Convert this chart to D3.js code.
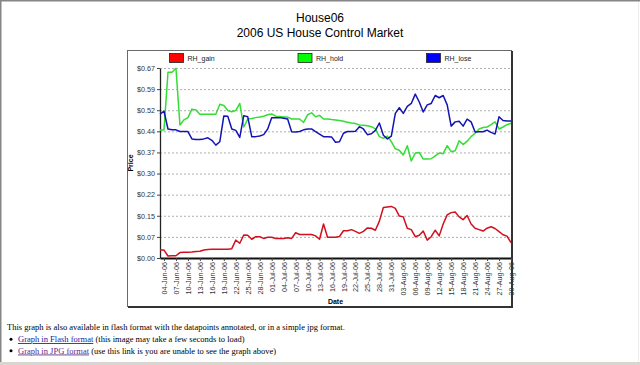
<!DOCTYPE html>
<html>
<head>
<meta charset="utf-8">
<script src="https://d3js.org/d3.v7.min.js"></script>
<style>
  body { margin: 0; background: #fff; }
  svg { display: block; }
</style>
</head>
<body>
<svg id="chart" width="640" height="365"></svg>
<script>

// ---- data ----
var firstDay = "03-Jun-06";
var lastDay = "30-Aug-06";

var seriesNames = ["RH_gain", "RH_hold", "RH_lose"];

var rhGain = [0.028, 0.028, 0.007, 0.008, 0.008, 0.019, 0.02, 0.02, 0.021, 0.023,
  0.024, 0.028, 0.03, 0.031, 0.031, 0.031, 0.031, 0.031, 0.033, 0.063,
  0.052, 0.081, 0.08, 0.066, 0.075, 0.075, 0.069, 0.073, 0.073, 0.069,
  0.069, 0.069, 0.071, 0.069, 0.089, 0.083, 0.083, 0.083, 0.083, 0.078,
  0.066, 0.12, 0.073, 0.073, 0.073, 0.076, 0.096, 0.096, 0.1, 0.094,
  0.087, 0.094, 0.106, 0.105, 0.098, 0.13, 0.178, 0.18, 0.182, 0.175,
  0.148, 0.145, 0.105, 0.1, 0.075, 0.08, 0.095, 0.063, 0.075, 0.098,
  0.078, 0.12, 0.152, 0.16, 0.162, 0.145, 0.135, 0.15, 0.12, 0.105,
  0.1, 0.095, 0.105, 0.11, 0.104, 0.093, 0.082, 0.077, 0.054];

var rhHold = [0.451, 0.451, 0.655, 0.655, 0.669, 0.469, 0.487, 0.495, 0.525, 0.522,
  0.507, 0.507, 0.507, 0.507, 0.507, 0.542, 0.538, 0.52, 0.516, 0.52,
  0.545, 0.462, 0.49, 0.492, 0.495, 0.497, 0.5, 0.505, 0.508, 0.5,
  0.499, 0.497, 0.497, 0.49, 0.49, 0.49, 0.478, 0.505, 0.512, 0.498,
  0.503, 0.49, 0.49, 0.488, 0.487, 0.485, 0.482, 0.479, 0.476, 0.474,
  0.469, 0.468, 0.466, 0.463, 0.455, 0.428, 0.422, 0.43, 0.41, 0.385,
  0.38, 0.363, 0.396, 0.342, 0.37, 0.372, 0.349, 0.349, 0.35, 0.36,
  0.37, 0.368, 0.396, 0.375, 0.378, 0.413, 0.4, 0.412, 0.428, 0.44,
  0.455, 0.46, 0.462, 0.47, 0.48, 0.455, 0.462, 0.47, 0.475];

var rhLose = [0.507, 0.518, 0.455, 0.452, 0.452, 0.446, 0.446, 0.446, 0.42, 0.418,
  0.418, 0.42, 0.424, 0.415, 0.398, 0.41, 0.501, 0.5, 0.455, 0.45,
  0.425, 0.502, 0.498, 0.428, 0.428, 0.43, 0.435, 0.455, 0.495, 0.495,
  0.495, 0.493, 0.49, 0.445, 0.444, 0.446, 0.452, 0.455, 0.455, 0.446,
  0.437, 0.428, 0.428, 0.427, 0.408, 0.41, 0.44, 0.446, 0.446, 0.447,
  0.463, 0.455, 0.435, 0.438, 0.45, 0.476, 0.433, 0.42, 0.43, 0.51,
  0.53, 0.51, 0.535, 0.545, 0.578, 0.55, 0.515, 0.54, 0.545, 0.573,
  0.565, 0.573, 0.54, 0.465, 0.48, 0.482, 0.465, 0.49, 0.48, 0.444,
  0.445, 0.445, 0.451, 0.443, 0.437, 0.498, 0.485, 0.483, 0.483];

var xTickLabels = ["04-Jun-06", "07-Jun-06", "10-Jun-06", "13-Jun-06", "16-Jun-06",
  "19-Jun-06", "22-Jun-06", "25-Jun-06", "28-Jun-06", "01-Jul-06", "04-Jul-06",
  "07-Jul-06", "10-Jul-06", "13-Jul-06", "16-Jul-06", "19-Jul-06", "22-Jul-06",
  "25-Jul-06", "28-Jul-06", "31-Jul-06", "03-Aug-06", "06-Aug-06", "09-Aug-06",
  "12-Aug-06", "15-Aug-06", "18-Aug-06", "21-Aug-06", "24-Aug-06", "27-Aug-06",
  "30-Aug-06"];

var yMax = 0.67;
var yTickLabels = ["$0.00", "$0.07", "$0.15", "$0.22", "$0.30", "$0.37", "$0.44", "$0.52", "$0.59", "$0.67"];

// ---- setup ----
var sans = "Arial, 'Liberation Sans', sans-serif";
var serif = "'Times New Roman', 'Liberation Serif', serif";
var lineColors = ["#d0101c", "#33dd33", "#1414b4"];
var swatchColors = ["#ff0000", "#00ff00", "#0000ff"];

var parseDay = d3.timeParse("%d-%b-%y");
var days = d3.timeDay.range(parseDay(firstDay), d3.timeDay.offset(parseDay(lastDay), 1));
var allSeries = [rhGain, rhHold, rhLose];

var svg = d3.select("#chart");

// page frame (browser window edges)
svg.append("rect").attr("x", 0).attr("y", 0).attr("width", 640).attr("height", 365).attr("fill", "#fff");
svg.append("line").attr("x1", 0).attr("x2", 640).attr("y1", 0.75).attr("y2", 0.75)
  .attr("stroke", "#858585").attr("stroke-width", 1.5);
svg.append("line").attr("x1", 0.75).attr("x2", 0.75).attr("y1", 0).attr("y2", 365)
  .attr("stroke", "#858585").attr("stroke-width", 1.5);
svg.append("rect").attr("x", 0).attr("y", 362).attr("width", 640).attr("height", 3).attr("fill", "#d8d6d0");
svg.append("line").attr("x1", 638.5).attr("x2", 638.5).attr("y1", 2).attr("y2", 362)
  .attr("stroke", "#ececec");

// titles
svg.append("text").attr("x", 320).attr("y", 22).attr("text-anchor", "middle")
  .style("font-family", sans).style("font-size", "12px").text("House06");
svg.append("text").attr("x", 320).attr("y", 36.5).attr("text-anchor", "middle")
  .style("font-family", sans).style("font-size", "12px").text("2006 US House Control Market");

// chart box with shadow
svg.append("rect").attr("x", 127.5).attr("y", 50.5).attr("width", 384).attr("height", 256)
  .attr("fill", "#fff").attr("stroke", "#6a6a6a");
svg.append("line").attr("x1", 512).attr("x2", 512).attr("y1", 51).attr("y2", 308)
  .attr("stroke", "#333").attr("stroke-width", 2);
svg.append("line").attr("x1", 128).attr("x2", 513).attr("y1", 307).attr("y2", 307)
  .attr("stroke", "#333").attr("stroke-width", 2);

// legend
var legend = svg.append("g").selectAll("g").data(seriesNames).enter().append("g")
  .attr("transform", function(d, i) { return "translate(" + (169.5 + i * 128.5) + ",53.5)"; });
legend.append("rect").attr("width", 14).attr("height", 9)
  .attr("fill", function(d, i) { return swatchColors[i]; })
  .attr("stroke", "#222").attr("stroke-width", 0.8);
legend.append("text").attr("x", 18).attr("y", 7.5)
  .style("font-family", sans).style("font-size", "7px").attr("fill", "#222")
  .text(function(d) { return d; });

// scales
var plotLeft = 160, plotRight = 511, plotTop = 68, plotBottom = 258;
var x = d3.scaleTime().domain([parseDay(firstDay), parseDay(lastDay)]).range([plotLeft, plotRight]);
var y = d3.scaleLinear().domain([0, yMax]).range([plotBottom, plotTop]);
var yTicks = yTickLabels.map(function(d, i) { return i * yMax / 9; });

// dashed grid
svg.append("g").selectAll("line").data(yTicks.slice(1)).enter().append("line")
  .attr("x1", plotLeft).attr("x2", plotRight)
  .attr("y1", function(d) { return y(d) + 0.5; }).attr("y2", function(d) { return y(d) + 0.5; })
  .attr("stroke", "#9a9a9a").attr("stroke-width", 0.8).attr("stroke-dasharray", "2,2");

// y axis
var yAxis = svg.append("g").attr("transform", "translate(" + plotLeft + ",0)")
  .call(d3.axisLeft(y).tickValues(yTicks).tickFormat(function(d, i) { return yTickLabels[i]; })
    .tickSize(3).tickSizeOuter(0));
yAxis.select(".domain").attr("stroke", "#222").attr("stroke-width", 1.3);
yAxis.selectAll(".tick line").attr("stroke", "#444");
yAxis.selectAll(".tick text").attr("x", -5).style("font-family", sans).style("font-size", "7.2px").attr("fill", "#333");

// x axis
var xAxis = svg.append("g").attr("transform", "translate(0," + plotBottom + ")")
  .call(d3.axisBottom(x).tickValues(xTickLabels.map(parseDay)).tickFormat(d3.timeFormat("%d-%b-%y"))
    .tickSize(3).tickSizeOuter(0));
xAxis.select(".domain").attr("stroke", "#111").attr("stroke-width", 2);
xAxis.selectAll(".tick line").attr("stroke", "#444");
xAxis.selectAll(".tick text")
  .attr("transform", "rotate(-90)")
  .attr("x", -4).attr("y", 0).attr("dy", "0.35em")
  .attr("text-anchor", "end")
  .style("font-family", sans).style("font-size", "7.2px").attr("fill", "#333");

// axis titles
svg.append("text").attr("transform", "translate(133," + ((plotTop + plotBottom) / 2) + ") rotate(-90)")
  .attr("text-anchor", "middle").style("font-family", sans).style("font-size", "7px")
  .style("font-weight", "bold").text("Price");
svg.append("text").attr("x", (plotLeft + plotRight) / 2).attr("y", 304).attr("text-anchor", "middle")
  .style("font-family", sans).style("font-size", "7px").style("font-weight", "bold").text("Date");

// lines
var line = d3.line()
  .x(function(d) { return x(d.date); })
  .y(function(d) { return y(d.v); });

allSeries.forEach(function(vals, i) {
  var pts = vals.map(function(v, k) { return { date: days[k], v: v }; });
  svg.append("path").datum(pts)
    .attr("d", line)
    .attr("fill", "none")
    .attr("stroke", lineColors[i])
    .attr("stroke-width", 1.5)
    .attr("stroke-linejoin", "round");
});

// footer text
var fs = "8.5px";
svg.append("text").attr("x", 7).attr("y", 330).style("font-family", serif).style("font-size", fs)
  .text("This graph is also available in flash format with the datapoints annotated, or in a simple jpg format.");

var links = [
  { link: "Graph in Flash format", rest: " (this image may take a few seconds to load)", color: "#1a1aa6", y: 342 },
  { link: "Graph in JPG format", rest: " (use this link is you are unable to see the graph above)", color: "#5a2a8c", y: 353.5 }
];
links.forEach(function(l) {
  svg.append("circle").attr("cx", 11).attr("cy", l.y - 2.7).attr("r", 1.5).attr("fill", "#000");
  var t = svg.append("text").attr("x", 18).attr("y", l.y).style("font-family", serif).style("font-size", fs);
  t.append("tspan").attr("fill", l.color).style("text-decoration", "underline").text(l.link);
  t.append("tspan").text(l.rest);
});

</script>
</body>
</html>
